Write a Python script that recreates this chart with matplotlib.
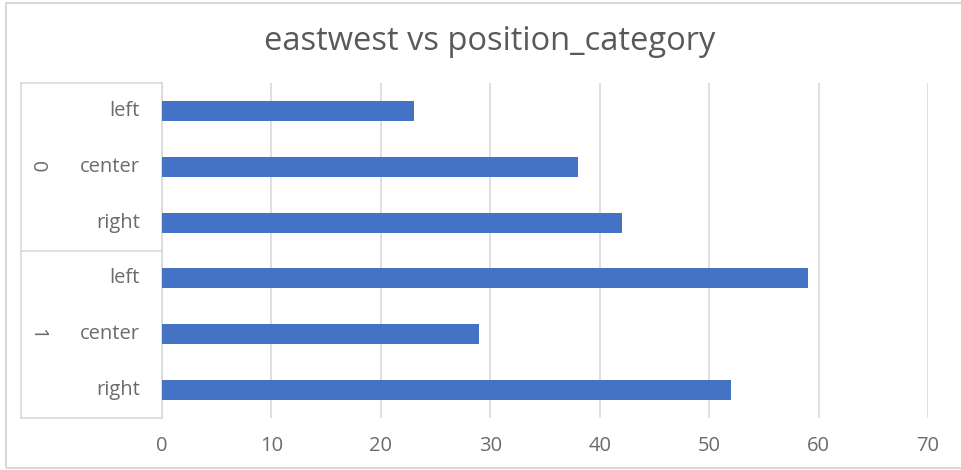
import matplotlib.pyplot as plt
from matplotlib.patches import Rectangle

groups = ['0', '1']
positions = ['left', 'center', 'right']
values_0 = [23, 38, 42]
values_1 = [59, 29, 52]
x_ticks = [0, 10, 20, 30, 40, 50, 60, 70]

plt.rcParams['font.family'] = ['Open Sans', 'DejaVu Sans']

fig = plt.figure(figsize=(9.61, 4.70), dpi=100)
ax = fig.add_axes([162 / 961, 1 - 418 / 470, (928 - 162) / 961, (418 - 83) / 470])

labels = positions + positions
vals = values_0 + values_1
n = len(vals)
ypos = [n - 1 - i for i in range(n)]
ax.barh(ypos, vals, height=0.36, color='#4472C4', zorder=3)
ax.set_ylim(-0.5, n - 0.5)
ax.set_xlim(0, 70)
ax.set_xticks(x_ticks)
ax.set_xticklabels([str(t) for t in x_ticks], color='#6b6b6b', fontsize=14.5)
ax.tick_params(axis='x', length=0, pad=13)
ax.set_yticks([])
ax.grid(axis='x', color='#d9d9d9', linewidth=1.2, zorder=0)
for s in ['top', 'right', 'bottom']:
    ax.spines[s].set_visible(False)
ax.spines['left'].set_color('#d9d9d9')
ax.spines['left'].set_linewidth(1.2)

# category labels
for y, lab in zip(ypos, labels):
    ax.text(-0.029, (y + 0.5) / n, lab, transform=ax.transAxes, ha='right', va='center',
            fontsize=14.5, color='#6b6b6b')
for gi, g in enumerate(groups):
    yc = 1 - (gi + 0.5) / len(groups)
    ax.text(-0.163, yc, g, transform=ax.transAxes, ha='center', va='center',
            rotation=-90, fontsize=14.5, color='#6b6b6b')

# grouped axis frame
xl = (21 - 162) / (928 - 162)
lc = '#d9d9d9'
for yy in [0, 0.5, 1]:
    ax.plot([xl, 0], [yy, yy], transform=ax.transAxes, color=lc, lw=1.2, clip_on=False)
ax.plot([xl, xl], [0, 1], transform=ax.transAxes, color=lc, lw=1.2, clip_on=False)

# chart border
fig.patches.append(Rectangle((6 / 961, 2 / 470), 1.2, 1 - 5 / 470, transform=fig.transFigure,
                             fill=False, edgecolor='#d9d9d9', lw=1.5))

fig.text(490 / 961, 1 - 41 / 470, 'eastwest vs position_category', ha='center', va='center',
         fontsize=23.5, color='#595959')

fig.savefig('out.png', dpi=100)
